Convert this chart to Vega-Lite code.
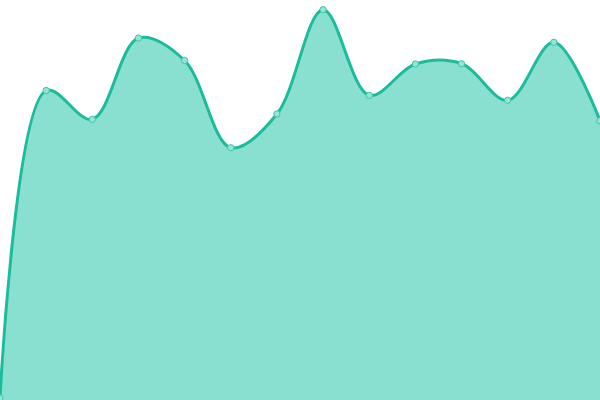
{
  "$schema": "https://vega.github.io/schema/vega-lite/v6.json",
  "width": 600,
  "height": 400,
  "autosize": {"type": "none"},
  "padding": 0,
  "background": "white",
  "config": {"view": {"stroke": null}},
  "data": {
    "values": [
      {"step": 0, "value": 2},
      {"step": 1, "value": 309.5},
      {"step": 2, "value": 280.7},
      {"step": 3, "value": 362},
      {"step": 4, "value": 339.5},
      {"step": 5, "value": 252.3},
      {"step": 6, "value": 286},
      {"step": 7, "value": 390.3},
      {"step": 8, "value": 304.7},
      {"step": 9, "value": 336},
      {"step": 10, "value": 336.3},
      {"step": 11, "value": 299.7},
      {"step": 12, "value": 357.7},
      {"step": 13, "value": 279.3}
    ]
  },
  "encoding": {
    "x": {
      "field": "step",
      "type": "quantitative",
      "scale": {"domain": [0, 13], "nice": false},
      "axis": null
    },
    "y": {
      "field": "value",
      "type": "quantitative",
      "scale": {"domain": [0, 400], "nice": false},
      "axis": null
    }
  },
  "layer": [
    {
      "mark": {"type": "area", "interpolate": "catmull-rom", "color": "#8ae0d0", "opacity": 1}
    },
    {
      "mark": {"type": "line", "interpolate": "catmull-rom", "color": "#1abc9c", "strokeWidth": 3}
    },
    {
      "mark": {
        "type": "point",
        "filled": true,
        "size": 40,
        "fill": "#95e4d5",
        "stroke": "#3cc6aa",
        "strokeWidth": 1,
        "opacity": 1
      }
    }
  ]
}
